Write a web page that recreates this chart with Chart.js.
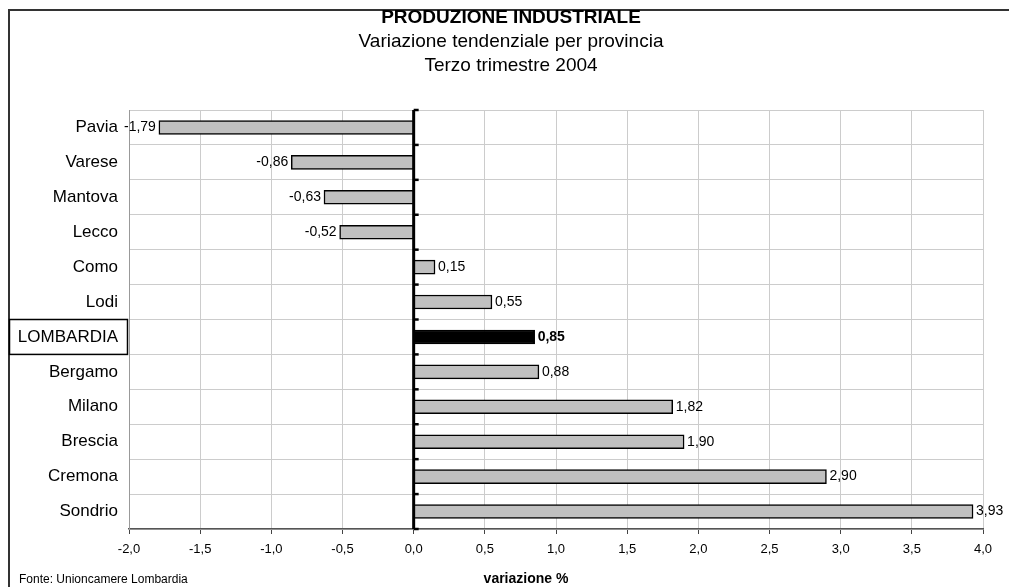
<!DOCTYPE html>
<html>
<head>
<meta charset="utf-8">
<script src="https://cdn.jsdelivr.net/npm/chart.js@4/dist/chart.umd.min.js"></script>
<style>
  html, body { margin: 0; padding: 0; background: #fff; }
  canvas { display: block; }
</style>
</head>
<body>
<canvas id="chart" width="1009" height="587"></canvas>
<script>
"use strict";

const province = [
  "Pavia", "Varese", "Mantova", "Lecco", "Como", "Lodi",
  "LOMBARDIA", "Bergamo", "Milano", "Brescia", "Cremona", "Sondrio",
];
const variazioni = [-1.79, -0.86, -0.63, -0.52, 0.15, 0.55, 0.85, 0.88, 1.82, 1.90, 2.90, 3.93];
const regione = "LOMBARDIA";
const xMin = -2;
const xMax = 4;
const xStep = 0.5;
const titolo = "PRODUZIONE INDUSTRIALE";
const sottotitolo = ["Variazione tendenziale per provincia", "Terzo trimestre 2004"];
const fonte = "Fonte: Unioncamere Lombardia";
const asseX = "variazione %";

const FONT = "'Liberation Sans', Arial, sans-serif";
const fmt = (v, d) => v.toFixed(d).replace(".", ",");

// cornice, titoli, box regione, asse dello zero ed etichette dei valori
const decorPlugin = {
  id: "decor",
  beforeDraw(chart) {
    const ctx = chart.ctx;
    ctx.save();
    ctx.strokeStyle = "#333";
    ctx.lineWidth = 2;
    ctx.beginPath();
    ctx.moveTo(9, chart.height);
    ctx.lineTo(9, 10);
    ctx.lineTo(chart.width, 10);
    ctx.stroke();

    const cx = 511;
    ctx.fillStyle = "#000";
    ctx.textAlign = "center";
    ctx.textBaseline = "middle";
    ctx.font = "bold 19px " + FONT;
    ctx.fillText(titolo, cx, 18);
    ctx.font = "19px " + FONT;
    sottotitolo.forEach((t, i) => ctx.fillText(t, cx, 42 + i * 24));

    ctx.font = "12px " + FONT;
    ctx.textAlign = "left";
    ctx.fillText(fonte, 19, 580);
    ctx.font = "bold 14px " + FONT;
    ctx.textAlign = "center";
    ctx.fillText(asseX, 526, 579);
    ctx.restore();
  },
  afterDatasetsDraw(chart) {
    const ctx = chart.ctx;
    const area = chart.chartArea;
    const xs = chart.scales.x;
    const n = province.length;
    const step = (area.bottom - area.top) / n;
    const x0 = xs.getPixelForValue(0);

    ctx.save();
    ctx.strokeStyle = "#000";
    ctx.lineWidth = 3;
    ctx.beginPath();
    ctx.moveTo(x0, area.top);
    ctx.lineTo(x0, area.bottom);
    ctx.stroke();
    ctx.lineWidth = 2.5;
    for (let i = 0; i <= n; i++) {
      const y = area.top + i * step;
      ctx.beginPath();
      ctx.moveTo(x0, y);
      ctx.lineTo(x0 + 5, y);
      ctx.stroke();
    }

    // box attorno all'etichetta della regione
    const idx = province.indexOf(regione);
    if (idx >= 0) {
      ctx.lineWidth = 1.5;
      ctx.strokeRect(9.5, area.top + idx * step, area.left - 11, step);
    }

    const meta = chart.getDatasetMeta(0);
    ctx.fillStyle = "#000";
    ctx.textBaseline = "middle";
    meta.data.forEach((bar, i) => {
      const v = variazioni[i];
      ctx.font = (province[i] === regione ? "bold " : "") + "14px " + FONT;
      if (v >= 0) {
        ctx.textAlign = "left";
        ctx.fillText(fmt(v, 2), bar.x + 3, bar.y);
      } else {
        ctx.textAlign = "right";
        ctx.fillText(fmt(v, 2), bar.x - 3, bar.y);
      }
    });
    ctx.restore();
  },
};

new Chart(document.getElementById("chart"), {
  type: "bar",
  data: {
    labels: province,
    datasets: [
      {
        data: variazioni,
        backgroundColor: province.map((p) => (p === regione ? "#000" : "#c0c0c0")),
        borderColor: "#000",
        borderWidth: 1.5,
        barThickness: 14,
      },
    ],
  },
  options: {
    indexAxis: "y",
    responsive: false,
    animation: false,
    layout: { padding: { left: 0, right: 26, top: 110, bottom: 0 } },
    plugins: {
      legend: { display: false },
      tooltip: { enabled: false },
    },
    scales: {
      x: {
        min: xMin,
        max: xMax,
        afterFit: (s) => { s.height = 58; },
        ticks: {
          stepSize: xStep,
          callback: (v) => fmt(Number(v), 1),
          font: { family: FONT, size: 13 },
          color: "#000",
          padding: 8,
          maxRotation: 0,
        },
        grid: {
          color: "#cccccc",
          tickColor: "#444",
          tickLength: 5,
        },
        border: { color: "#555", width: 1.5 },
      },
      y: {
        afterFit: (s) => { s.width = 129; },
        ticks: {
          font: { family: FONT, size: 17 },
          color: "#000",
          padding: 11,
        },
        grid: {
          color: "#cccccc",
          offset: true,
          drawTicks: false,
        },
        border: { color: "#999", width: 1 },
      },
    },
  },
  plugins: [decorPlugin],
});
</script>
</body>
</html>
